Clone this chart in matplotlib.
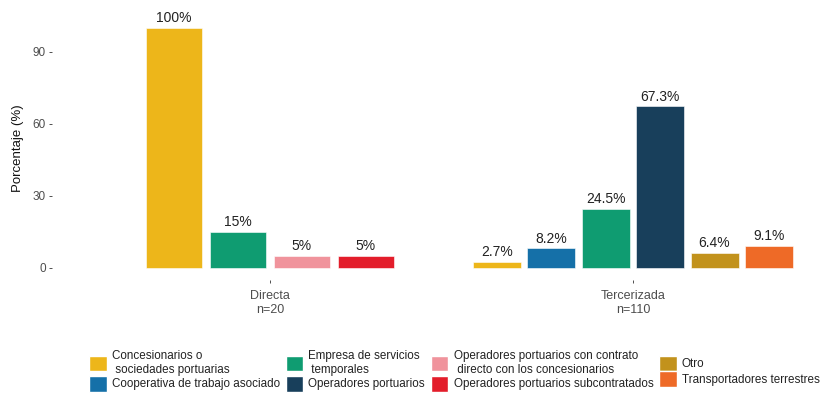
import matplotlib
matplotlib.use("Agg")
import matplotlib.pyplot as plt
from matplotlib.patches import Patch

plt.rcParams["font.family"] = ["Liberation Sans", "DejaVu Sans"]

# Groups and their bars
groups = ["Directa\nn=20", "Tercerizada\nn=110"]

directa_cats = [
    "Concesionarios o\n sociedades portuarias",
    "Empresa de servicios\n temporales",
    "Operadores portuarios con contrato\n directo con los concesionarios",
    "Operadores portuarios subcontratados",
]
directa_vals = [100, 15, 5, 5]

tercerizada_cats = [
    "Concesionarios o\n sociedades portuarias",
    "Cooperativa de trabajo asociado",
    "Empresa de servicios\n temporales",
    "Operadores portuarios",
    "Otro",
    "Transportadores terrestres",
]
tercerizada_vals = [2.7, 8.2, 24.5, 67.3, 6.4, 9.1]

legend_order = [
    "Concesionarios o\n sociedades portuarias",
    "Cooperativa de trabajo asociado",
    "Empresa de servicios\n temporales",
    "Operadores portuarios",
    "Operadores portuarios con contrato\n directo con los concesionarios",
    "Operadores portuarios subcontratados",
    "Otro",
    "Transportadores terrestres",
]

palette = {
    "Concesionarios o\n sociedades portuarias": "#EDB61A",
    "Cooperativa de trabajo asociado": "#1570A8",
    "Empresa de servicios\n temporales": "#0F9C71",
    "Operadores portuarios": "#183F5B",
    "Operadores portuarios con contrato\n directo con los concesionarios": "#F0939C",
    "Operadores portuarios subcontratados": "#E31D2B",
    "Otro": "#C2921C",
    "Transportadores terrestres": "#EE6A27",
}

W, H = 826, 398
fig = plt.figure(figsize=(W / 100, H / 100), dpi=100)
ax_l, ax_r, ax_t, ax_b = 52, 826, 16, 280
ax = fig.add_axes([ax_l / W, 1 - ax_b / H, (ax_r - ax_l) / W, (ax_b - ax_t) / H])

series = [
    (0, directa_cats, directa_vals, 0.176, 0.154),
    (1, tercerizada_cats, tercerizada_vals, 0.150, 0.132),
]
for gx, cats, vals, step, width in series:
    n = len(cats)
    xs = [gx + (i - (n - 1) / 2) * step for i in range(n)]
    bars = ax.bar(xs, vals, width=width, color=[palette[c] for c in cats],
                  edgecolor="white", linewidth=0.4)
    for b, v in zip(bars, vals):
        ax.annotate(f"{v:g}%", (b.get_x() + b.get_width() / 2, v),
                    xytext=(0, 2), textcoords="offset points",
                    ha="center", va="bottom", fontsize=10, color="#222222")

ax.set_xlim(-0.6, 1.532)
ax.set_ylim(-5, 105)
ax.set_xticks([0, 1])
ax.set_xticklabels(groups, fontsize=9, color="#4D4D4D", linespacing=1.15)
ax.set_yticks([0, 30, 60, 90])
ax.tick_params(axis="both", length=2.5, width=0.6, color="#333333")
ax.tick_params(axis="y", labelsize=8.5, labelcolor="#4D4D4D", pad=2)
ax.tick_params(axis="x", pad=5)
for s in ax.spines.values():
    s.set_visible(False)
ax.set_ylabel("Porcentaje (%)", fontsize=9.5, color="#111111", labelpad=6)

handles = [Patch(facecolor=palette[c], edgecolor="white", label=c) for c in legend_order]
fig.legend(handles=handles, ncol=4, loc="upper left",
           bbox_to_anchor=(89 / W, 1 - 350 / H), frameon=False,
           fontsize=8.4, handlelength=1.5, handleheight=1.7,
           handletextpad=0.45, columnspacing=0.5, labelspacing=0.0,
           borderpad=0, borderaxespad=0, labelcolor="#222222")

fig.savefig("out.png", dpi=100, facecolor="white")
